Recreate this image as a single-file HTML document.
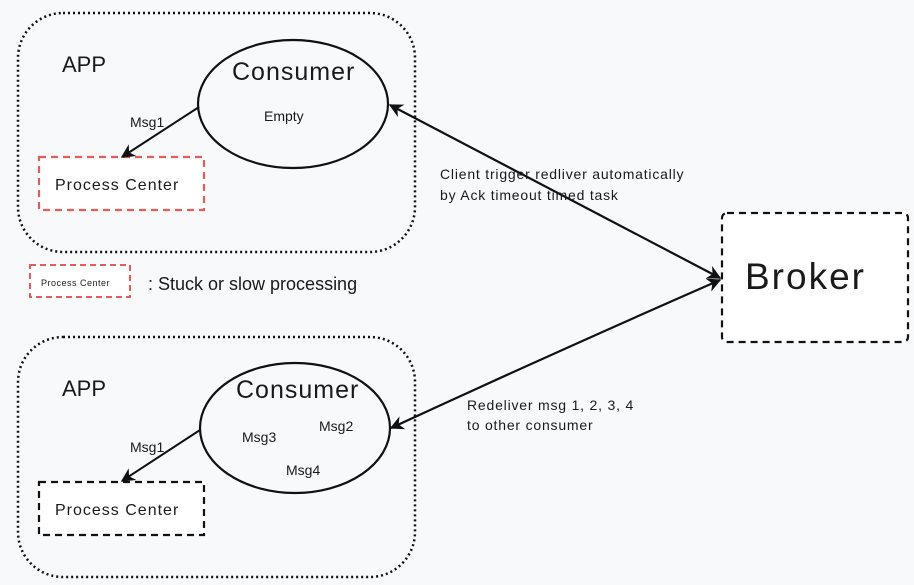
<!DOCTYPE html>
<html><head><meta charset="utf-8"><style>
html,body{margin:0;padding:0;background:#f7f9fb;}
svg{display:block}
text{font-family:"Liberation Sans",sans-serif;fill:#1a1a1a}
</style></head><body>
<svg width="914" height="585" viewBox="0 0 914 585" xmlns="http://www.w3.org/2000/svg">
<defs>
<marker id="ah2" viewBox="0 0 10 10" refX="9" refY="5" markerWidth="14" markerHeight="14" orient="auto-start-reverse" markerUnits="userSpaceOnUse">
<path d="M0,0 L10,5 L0,10 L3,5 z" fill="#111"/></marker>
</defs>
<rect width="914" height="585" fill="#f7f9fb"/>
<rect x="18" y="13" width="397" height="239" rx="45" fill="none" stroke="#111" stroke-width="2.5" stroke-dasharray="2 3"/>
<rect x="18" y="337" width="397" height="240" rx="45" fill="none" stroke="#111" stroke-width="2.5" stroke-dasharray="2 3"/>
<text x="62" y="72" font-size="22">APP</text>
<text x="62" y="396" font-size="22">APP</text>
<ellipse cx="293" cy="104" rx="95" ry="64" fill="none" stroke="#111" stroke-width="2.2"/>
<ellipse cx="295" cy="428" rx="95" ry="65" fill="none" stroke="#111" stroke-width="2.2"/>
<text x="232" y="80" font-size="25" letter-spacing="1">Consumer</text>
<text x="236" y="398" font-size="25" letter-spacing="1">Consumer</text>
<text x="264" y="121" font-size="14">Empty</text>
<text x="242" y="442" font-size="14">Msg3</text>
<text x="319" y="431" font-size="14">Msg2</text>
<text x="286" y="475" font-size="14">Msg4</text>
<rect x="39" y="157" width="165" height="53" fill="#fff" stroke="#e35d5b" stroke-width="2.2" stroke-dasharray="7 5"/>
<text x="55" y="190" font-size="16" letter-spacing="1">Process Center</text>
<rect x="39" y="482" width="165" height="53" fill="#fff" stroke="#111" stroke-width="2.2" stroke-dasharray="7 5"/>
<text x="55" y="515" font-size="16" letter-spacing="1">Process Center</text>
<line x1="199" y1="107" x2="122" y2="157" stroke="#111" stroke-width="2" marker-end="url(#ah2)"/>
<line x1="200" y1="430" x2="122" y2="481" stroke="#111" stroke-width="2" marker-end="url(#ah2)"/>
<text x="130" y="127" font-size="14">Msg1</text>
<text x="130" y="452" font-size="14">Msg1</text>
<rect x="30" y="265" width="100" height="32" fill="#fff" stroke="#e35d5b" stroke-width="2" stroke-dasharray="6 4"/>
<text x="41" y="286" font-size="9" letter-spacing="0.5">Process Center</text>
<text x="148" y="290" font-size="18">: Stuck or slow processing</text>
<rect x="722" y="213" width="186" height="129" rx="5" fill="#fff" stroke="#111" stroke-width="2.2" stroke-dasharray="7 5"/>
<text x="745" y="289" font-size="37" letter-spacing="2">Broker</text>
<line x1="390" y1="105" x2="720" y2="278" stroke="#111" stroke-width="2.2" marker-start="url(#ah2)" marker-end="url(#ah2)"/>
<path d="M720,280 Q560,350 391,428" fill="none" stroke="#111" stroke-width="2.2" marker-start="url(#ah2)" marker-end="url(#ah2)"/>
<text x="440" y="179" font-size="14" letter-spacing="0.8">Client trigger redliver automatically</text>
<text x="440" y="200" font-size="14" letter-spacing="0.8">by Ack timeout timed task</text>
<text x="467" y="410" font-size="14" letter-spacing="0.8">Redeliver msg 1, 2, 3, 4</text>
<text x="467" y="430" font-size="14" letter-spacing="0.8">to other consumer</text>
</svg>
</body></html>
